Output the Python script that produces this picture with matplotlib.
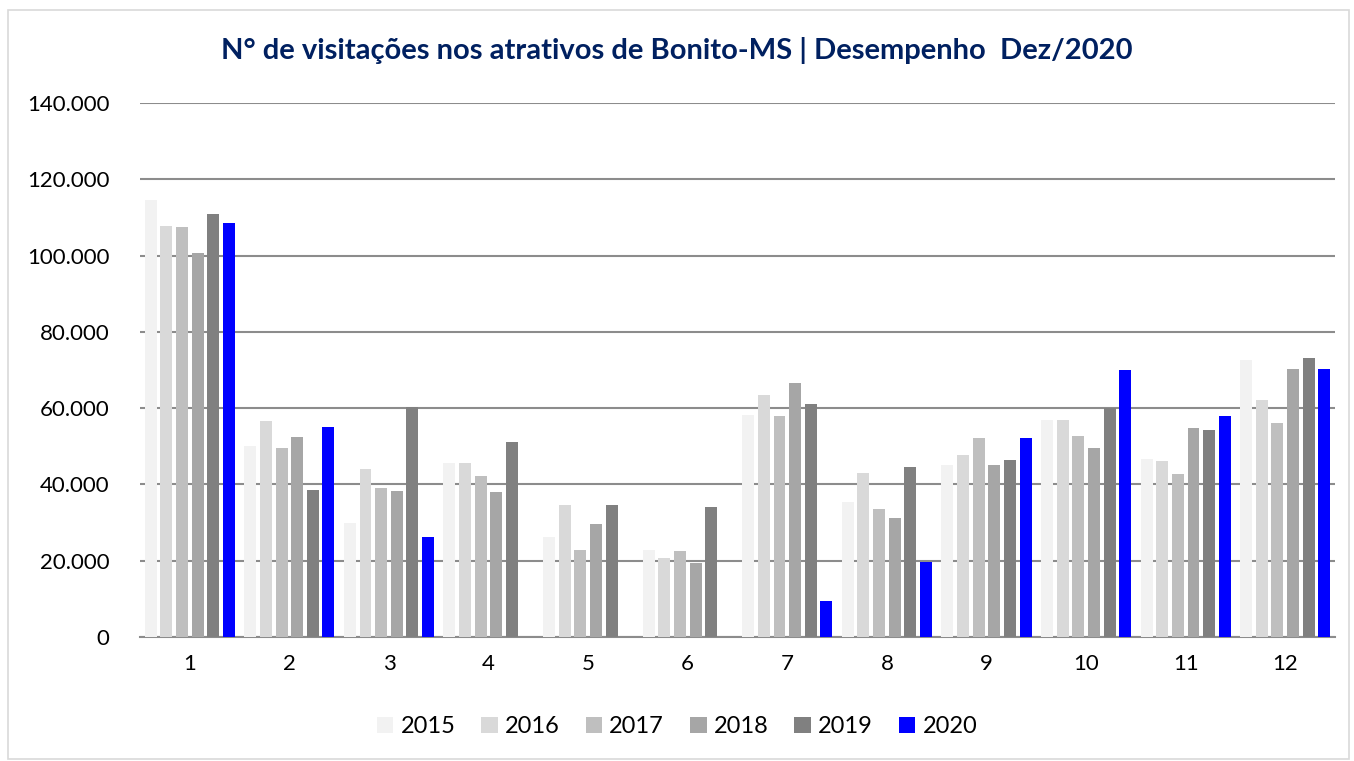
import matplotlib.pyplot as plt
import matplotlib.ticker as mticker
from matplotlib.patches import Rectangle
import numpy as np

months = ['1', '2', '3', '4', '5', '6', '7', '8', '9', '10', '11', '12']
years = ['2015', '2016', '2017', '2018', '2019', '2020']

v2015 = [114600, 50100, 29900, 45500, 26200, 22700, 58200, 35300, 45100, 56900, 46700, 72600]
v2016 = [107800, 56600, 44000, 45500, 34500, 20700, 63500, 42900, 47600, 56900, 46100, 62100]
v2017 = [107500, 49600, 39100, 42200, 22700, 22600, 57800, 33500, 52100, 52700, 42700, 56200]
v2018 = [100700, 52400, 38200, 37900, 29500, 19300, 66700, 31300, 45100, 49600, 54800, 70300]
v2019 = [111000, 38500, 60200, 51100, 34700, 34200, 61000, 44600, 46500, 60000, 54300, 73200]
v2020 = [108500, 55100, 26200, 0, 0, 0, 9400, 19700, 52100, 70000, 57900, 70300]

colors = ['#F2F2F2', '#D9D9D9', '#BFBFBF', '#A6A6A6', '#808080', '#0000FF']
series = [v2015, v2016, v2017, v2018, v2019, v2020]

plt.rcParams['font.family'] = ['Lato', 'DejaVu Sans']

fig = plt.figure(figsize=(13.54, 7.61), dpi=100)
ax = fig.add_axes([0.1034, 0.163, 0.8826, 0.7017])

x = np.arange(len(months))
step = 0.157
width = 0.12
for i, (vals, c) in enumerate(zip(series, colors)):
    ax.bar(x + (i - 2.5) * step, vals, width, color=c, label=years[i], zorder=3)

ax.set_xlim(-0.5, 11.5)
ax.set_ylim(0, 140000)
ax.set_yticks(np.arange(0, 140001, 20000))
ax.yaxis.set_major_formatter(mticker.FuncFormatter(lambda v, p: f'{int(v):,}'.replace(',', '.')))
ax.set_xticks(x)
ax.set_xticklabels(months)
ax.tick_params(axis='both', length=0, labelsize=16, colors='black')
ax.tick_params(axis='x', pad=12)
ax.tick_params(axis='y', pad=22)
ax.grid(axis='y', color='#8C8C8C', linewidth=1.5, zorder=0)
for s in ['top', 'right', 'left']:
    ax.spines[s].set_visible(False)
ax.spines['bottom'].set_color('#8C8C8C')
ax.spines['bottom'].set_linewidth(1.5)

fig.text(0.5, 0.934, 'N° de visitações nos atrativos de Bonito-MS | Desempenho  Dez/2020',
         ha='center', va='center', fontsize=21, fontweight='bold', color='#002060')

fig.legend(loc='center', bbox_to_anchor=(0.5, 0.045), ncol=6, frameon=False,
           fontsize=17, handlelength=0.7, handleheight=0.7, handletextpad=0.3,
           columnspacing=1.1)

fig.patches.append(Rectangle((0.006, 0.003), 0.99, 0.984, transform=fig.transFigure,
                             fill=False, edgecolor='#D9D9D9', linewidth=1.2))

fig.savefig('out.png', dpi=100)
